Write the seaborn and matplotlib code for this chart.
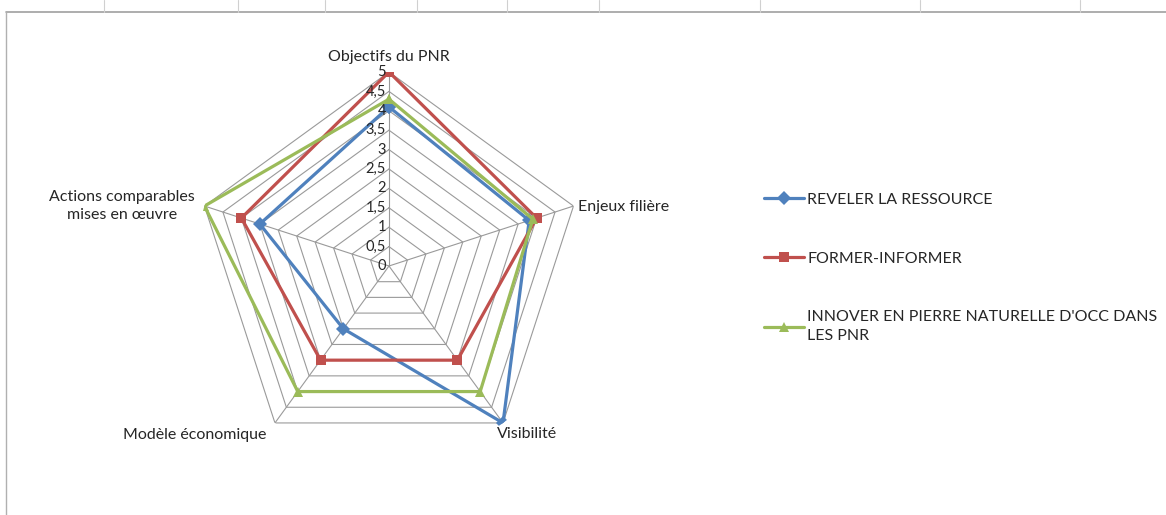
import numpy as np
import pandas as pd
import seaborn as sns
import matplotlib.pyplot as plt
from matplotlib.lines import Line2D

# radar axes (clockwise from top)
categories = ['Objectifs du PNR', 'Enjeux filière', 'Visibilité',
              'Modèle économique', 'Actions comparables\nmises en œuvre']
series_names = ['REVELER LA RESSOURCE', 'FORMER-INFORMER',
                "INNOVER EN PIERRE NATURELLE D'OCC DANS\nLES PNR"]
reveler = [4.1, 3.8, 5, 2, 3.5]
former = [5, 4, 3, 3, 4]
innover = [4.3, 3.9, 4, 4, 5]
levels = [0, 0.5, 1, 1.5, 2, 2.5, 3, 3.5, 4, 4.5, 5]

colors = ['#4F81BD', '#C0504D', '#9BBB59']
markers = ['D', 's', '^']

sns.set_style('white')
plt.rcParams['font.family'] = ['Lato', 'DejaVu Sans']

n = len(categories)
theta = np.arange(n) * 2 * np.pi / n
theta_closed = np.append(theta, 2 * np.pi)

rows = []
for name, vals in zip(series_names, [reveler, former, innover]):
    closed = list(vals) + [vals[0]]
    for t, v in zip(theta_closed, closed):
        rows.append({'theta': t, 'value': v, 'serie': name})
df = pd.DataFrame(rows)

fig = plt.figure(figsize=(11.66, 5.15), dpi=100)
ax = fig.add_axes([0.1672, 0.1068, 0.3328, 0.7534], projection='polar')
ax.set_theta_offset(np.pi / 2)
ax.set_theta_direction(-1)

# polygon grid
grid_col = '#9a9a9a'
for lv in levels[1:]:
    ax.plot(theta_closed, [lv] * (n + 1), color=grid_col, lw=0.8, zorder=1)
for t in theta:
    ax.plot([t, t], [0, 5], color=grid_col, lw=0.8, zorder=1)

sns.lineplot(data=df, x='theta', y='value', hue='serie', style='serie',
             palette=dict(zip(series_names, colors)),
             markers=dict(zip(series_names, markers)), dashes=False,
             sort=False, estimator=None, linewidth=2.3, markersize=7,
             markeredgewidth=0, ax=ax, zorder=3)

ax.set_ylim(0, 5)
ax.grid(False)
ax.spines['polar'].set_visible(False)
ax.set_xticks([])
ax.set_yticks([])
ax.set_xlabel('')
ax.set_ylabel('')

fs = 11.5
for lv in levels:
    ax.annotate(f'{lv:g}'.replace('.', ','), xy=(0, lv), xytext=(-2, 0),
                textcoords='offset points', ha='right', va='center', fontsize=10.5)

# category labels around the outer ring
label_pos = [((0, 11), 'center', 'center'),
             ((3, -1), 'left', 'center'),
             ((-4, -8), 'left', 'center'),
             ((-6, -9), 'right', 'center'),
             ((-7, 0), 'right', 'center')]
for t, cat, (off, ha, va) in zip(theta, categories, label_pos):
    ax.annotate(cat, xy=(t, 5), xytext=off, textcoords='offset points',
                ha=ha, va=va, fontsize=fs, multialignment='center',
                linespacing=1.3)

handles, labels = ax.get_legend_handles_labels()
ax.get_legend().remove()
leg = fig.legend(handles, labels, loc='upper left', bbox_to_anchor=(0.643, 0.654),
                 frameon=False, fontsize=fs, labelspacing=2.8, handlelength=2.5,
                 handletextpad=0.2)
for txt in leg.get_texts():
    txt.set_linespacing(1.45)

# sheet frame
fig.add_artist(Line2D([0.005, 1], [0.976, 0.976], color='#a0a0a0', lw=1.2))
fig.add_artist(Line2D([0.005, 0.005], [0, 0.976], color='#b0b0b0', lw=1))
for xt in [0.089, 0.204, 0.279, 0.358, 0.435, 0.514, 0.652, 0.789, 0.926]:
    fig.add_artist(Line2D([xt, xt], [0.976, 1], color='#d0d0d0', lw=0.8))

fig.savefig('out.png', dpi=100)
